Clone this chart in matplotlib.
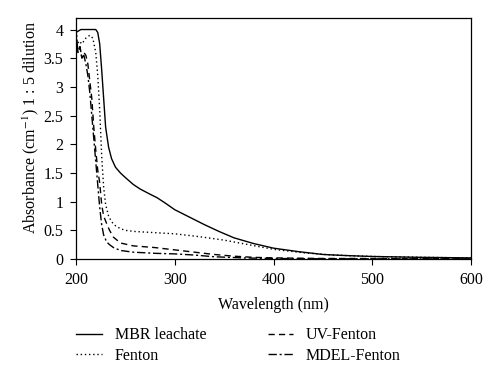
import matplotlib
matplotlib.use("Agg")
import matplotlib.pyplot as plt

plt.rcParams['font.family'] = ['Liberation Serif', 'DejaVu Serif']
plt.rcParams['mathtext.fontset'] = 'stix'

mbr_wl = [200, 205, 210, 215, 220, 222, 224, 226, 228, 230, 233, 236, 240, 245, 250, 258, 265, 275, 282, 290, 300, 315, 330, 345, 360, 380, 400, 425, 450, 475, 500, 550, 600]
mbr_abs = [3.95, 4.0, 4.0, 4.0, 4.0, 3.95, 3.75, 3.3, 2.8, 2.3, 1.95, 1.75, 1.6, 1.5, 1.42, 1.3, 1.22, 1.13, 1.07, 0.98, 0.86, 0.73, 0.6, 0.48, 0.37, 0.27, 0.19, 0.13, 0.08, 0.06, 0.045, 0.03, 0.02]

fen_wl = [200, 203, 206, 210, 214, 217, 220, 222, 224, 226, 228, 230, 233, 236, 240, 245, 250, 260, 280, 300, 325, 350, 375, 400, 430, 460, 500, 550, 600]
fen_abs = [3.7, 3.8, 3.75, 3.85, 3.9, 3.85, 3.6, 3.2, 2.6, 1.8, 1.25, 0.95, 0.75, 0.65, 0.58, 0.53, 0.5, 0.48, 0.46, 0.44, 0.39, 0.33, 0.25, 0.17, 0.11, 0.07, 0.045, 0.03, 0.02]

uv_wl = [200, 202, 204, 206, 208, 210, 212, 214, 216, 218, 220, 222, 224, 226, 228, 231, 234, 238, 245, 258, 280, 300, 320, 340, 360, 380, 400, 450, 500, 600]
uv_abs = [3.9, 3.6, 3.7, 3.5, 3.6, 3.55, 3.4, 3.1, 2.8, 2.3, 1.9, 1.55, 1.33, 0.95, 0.75, 0.62, 0.5, 0.38, 0.28, 0.23, 0.2, 0.16, 0.12, 0.08, 0.05, 0.03, 0.02, 0.01, 0.01, 0.005]

mdel_wl = [200, 201, 202, 204, 206, 208, 210, 212, 214, 216, 218, 220, 222, 224, 226, 228, 231, 234, 238, 245, 258, 280, 300, 320, 340, 370, 400, 450, 600]
mdel_abs = [4.1, 3.8, 3.6, 3.7, 3.5, 3.55, 3.4, 3.2, 2.9, 2.5, 2.1, 1.7, 1.3, 0.9, 0.6, 0.42, 0.3, 0.25, 0.2, 0.15, 0.12, 0.1, 0.09, 0.07, 0.04, 0.02, 0.01, 0.005, 0.003]

x_ticks = [200, 300, 400, 500, 600]
y_ticks = [0, 0.5, 1, 1.5, 2, 2.5, 3, 3.5, 4]
y_labels = ['0', '0.5', '1', '1.5', '2', '2.5', '3', '3.5', '4']

fig = plt.figure(figsize=(5.0, 3.76), dpi=100)
ax = fig.add_axes([0.152, 0.311, 0.79, 0.641])

lw = 1.0
l1, = ax.plot(mbr_wl, mbr_abs, color='black', lw=lw, ls='-', label='MBR leachate')
l2, = ax.plot(fen_wl, fen_abs, color='black', lw=lw, ls=(0, (1, 2)), label='Fenton')
l3, = ax.plot(uv_wl, uv_abs, color='black', lw=lw, ls=(0, (4.5, 3)), label='UV-Fenton')
l4, = ax.plot(mdel_wl, mdel_abs, color='black', lw=lw, ls=(0, (6, 2, 1.5, 2)), label='MDEL-Fenton')

ax.set_xlim(200, 600)
ax.set_ylim(0, 4.2)
ax.set_xticks(x_ticks)
ax.set_yticks(y_ticks)
ax.set_yticklabels(y_labels)
ax.tick_params(direction='out', length=4, width=0.8, labelsize=11.5)
ax.tick_params(axis='x', pad=5)
ax.tick_params(axis='y', pad=5)
for s in ax.spines.values():
    s.set_linewidth(0.9)

ax.set_xlabel('Wavelength (nm)', fontsize=11.5, labelpad=7)
ax.set_ylabel('Absorbance (cm$^{-1}$) 1 : 5 dilution', fontsize=11.5)
ax.yaxis.set_label_coords(-0.089, 0.545)

leg = fig.legend(handles=[l1, l2, l3, l4], loc='upper left', bbox_to_anchor=(0.124, 0.168),
                 bbox_transform=fig.transFigure, ncol=2, frameon=False, fontsize=11.5,
                 handlelength=1.6, handletextpad=0.8, columnspacing=3.85, labelspacing=0.3)

fig.savefig('out.png', dpi=100)
